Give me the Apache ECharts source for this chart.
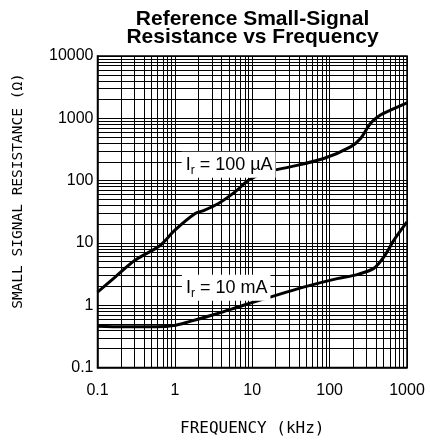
<!DOCTYPE html>
<html>
<head>
<meta charset="utf-8">
<script src="https://cdn.jsdelivr.net/npm/echarts@6/dist/echarts.min.js"></script>
<style>
html,body{margin:0;padding:0;background:#fff;}
#chart{width:430px;height:440px;}
</style>
</head>
<body>
<div id="chart"></div>
<script>
// Data
var freq100uA = [0.1, 0.169, 0.305, 0.644, 1.0, 1.83, 2.34, 3.66, 6.0, 8.95, 15.5, 31, 84, 186, 251, 337, 454, 611, 1000];
var res100uA  = [1.62, 2.83, 5.25, 9.1, 16, 29.6, 33, 43, 66, 101, 138, 166, 226, 348, 475, 828, 1125, 1350, 1770];
var freq10mA  = [0.1, 0.216, 0.58, 0.96, 1.57, 3.5, 7.7, 17, 46, 125, 227, 372, 500, 675, 1000];
var res10mA   = [0.46, 0.45, 0.45, 0.47, 0.55, 0.73, 1.0, 1.35, 1.95, 2.67, 3.1, 3.9, 5.9, 11, 21.7];
var xTickLabels = [0.1, 1, 10, 100, 1000];
var yTickLabels = [0.1, 1, 10, 100, 1000, 10000];
var gridMultipliers = [1, 2, 3, 4, 5, 6, 7, 8, 9];
var labelTexts = ['100 µA', '10 mA'];
var labelCoords = [[4.95, 180], [4.6, 1.9]];
var titleText = 'Reference Small-Signal\nResistance vs Frequency';
var xName = 'FREQUENCY (kHz)';
var yName = 'SMALL SIGNAL RESISTANCE (Ω)';

function gridValues(ticks) {
  var out = [];
  for (var i = 0; i < ticks.length - 1; i++) {
    for (var j = 0; j < gridMultipliers.length; j++) {
      out.push(+(ticks[i] * gridMultipliers[j]).toPrecision(6));
    }
  }
  out.push(ticks[ticks.length - 1]);
  return out;
}
var xGrid = gridValues(xTickLabels);
var yGrid = gridValues(yTickLabels);

function pairs(xs, ys) { return xs.map(function (x, i) { return [x, ys[i]]; }); }

var gridLineData = xGrid.map(function (v) { return { xAxis: v }; })
  .concat(yGrid.map(function (v) { return { yAxis: v }; }));

function fmt(v) { return String(+(+v).toPrecision(6)); }

var FONT = 'Liberation Sans, Arial, Helvetica, sans-serif';
var labelRich = {
  a: { fontFamily: FONT, fontSize: 18, color: '#000', lineHeight: 22 },
  b: { fontFamily: FONT, fontSize: 12, color: '#000', lineHeight: 22, padding: [11, 0, 0, 0] },
  c: { fontFamily: FONT, fontSize: 18, color: '#000', lineHeight: 22 }
};

function curveLabel(i) {
  return {
    symbol: 'rect', symbolSize: 1, silent: true,
    itemStyle: { color: 'rgba(0,0,0,0)' },
    label: {
      show: true, position: 'inside',
      formatter: '{a|I}{b|r}{c| = ' + labelTexts[i] + '}',
      rich: labelRich, backgroundColor: '#fff', padding: [2, 3, 2, 4]
    },
    data: [{ coord: labelCoords[i] }]
  };
}

var chart = echarts.init(document.getElementById('chart'), null, { renderer: 'canvas' });
chart.setOption({
  animation: false,
  backgroundColor: '#fff',
  title: {
    text: titleText,
    left: 247.5, top: 5, textAlign: 'center',
    textStyle: { fontFamily: FONT, fontWeight: 'bold', fontSize: 21, lineHeight: 18, color: '#000' }
  },
  grid: {
    left: 97.5, right: 23, top: 56, bottom: 72.5,
    outerBoundsMode: 'none', containLabel: false,
    show: true, borderColor: '#000', borderWidth: 1.5
  },
  xAxis: {
    type: 'log', logBase: 10, min: 0.1, max: 1000, interval: 1,
    name: xName, nameLocation: 'middle', nameGap: 53,
    nameTextStyle: { fontFamily: 'DejaVu Sans Mono', fontSize: 16, color: '#000' },
    axisLine: { show: true, lineStyle: { color: '#000', width: 1.5 } },
    axisTick: { show: false },
    splitLine: { show: false },
    axisLabel: { formatter: fmt, margin: 15, fontFamily: FONT, fontSize: 16, color: '#000' }
  },
  yAxis: {
    type: 'log', logBase: 10, min: 0.1, max: 10000, interval: 1,
    axisLine: { show: true, lineStyle: { color: '#000', width: 1.5 } },
    axisTick: { show: false },
    splitLine: { show: false },
    axisLabel: { formatter: fmt, margin: 4, fontFamily: FONT, fontSize: 16, color: '#000' }
  },
  graphic: [{
    type: 'text', x: 18, y: 191, rotation: Math.PI / 2, silent: true,
    style: { text: yName, fontFamily: 'DejaVu Sans Mono', fontSize: 14.5, fill: '#000', align: 'center', verticalAlign: 'middle' }
  }],
  series: [
    {
      name: 'grid', type: 'line', data: [], silent: true,
      markLine: {
        silent: true, z: 1, symbol: ['none', 'none'], label: { show: false },
        lineStyle: { type: 'solid', color: '#000', width: 1 },
        emphasis: { disabled: true },
        data: gridLineData
      }
    },
    {
      name: 'Ir = 100 µA', type: 'line', data: pairs(freq100uA, res100uA),
      smooth: 0.3, showSymbol: false, symbol: 'none', z: 3,
      lineStyle: { color: '#000', width: 3 },
      markPoint: curveLabel(0)
    },
    {
      name: 'Ir = 10 mA', type: 'line', data: pairs(freq10mA, res10mA),
      smooth: 0.3, showSymbol: false, symbol: 'none', z: 3,
      lineStyle: { color: '#000', width: 3 },
      markPoint: curveLabel(1)
    }
  ]
});
</script>
</body>
</html>
